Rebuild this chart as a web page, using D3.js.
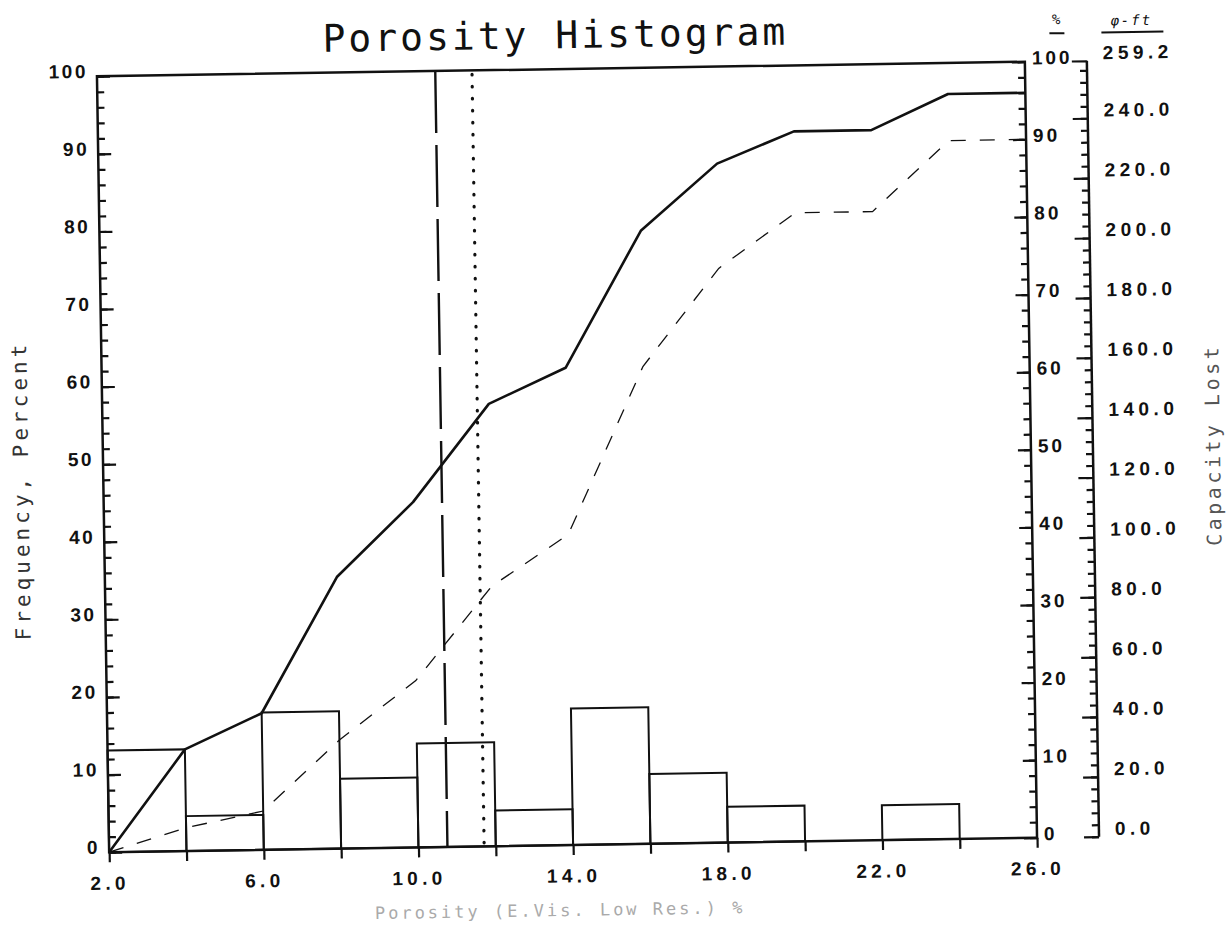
<!DOCTYPE html>
<html>
<head>
<meta charset="utf-8">
<script src="https://cdn.jsdelivr.net/npm/d3@7"></script>
<style>
html, body { margin: 0; padding: 0; background: #fff; }
svg { display: block; }
.num { font-family: "Liberation Sans", Arial, sans-serif; font-weight: bold; font-size: 19px; fill: #111; }
.mono { font-family: "DejaVu Sans Mono", monospace; }
</style>
</head>
<body>
<svg id="chart" width="1231" height="925"></svg>
<script>
/* ------------------------------------------------------------
   DATA
------------------------------------------------------------ */
const binStarts = [2, 4, 6, 8, 10, 12, 14, 16, 18, 20, 22, 24];
const binWidth = 2;
const frequency = [13.1, 4.5, 17.7, 9.0, 13.4, 4.6, 17.6, 9.0, 4.6, 0, 4.5, 0];

const cumEdges = [2, 4, 6, 8, 10, 12, 14, 16, 18, 20, 22, 24, 26];
const cumFrequency = [0, 13.1, 17.6, 35, 44.5, 57, 61.5, 79, 87.5, 91.5, 91.5, 96, 96];
const cumCapacity = [0, 3, 5, 14, 21.5, 33.5, 40, 61.5, 74, 81, 81, 90, 90];

const xLabelTicks = [2, 6, 10, 14, 18, 22, 26];
const pctTicks = [0, 10, 20, 30, 40, 50, 60, 70, 80, 90, 100];
const capTicks = [0, 20, 40, 60, 80, 100, 120, 140, 160, 180, 200, 220, 240];
const capMax = 259.2;

const cutoffDashed = 10.75;
const cutoffDotted = 11.7;

/* ------------------------------------------------------------
   LAYOUT
------------------------------------------------------------ */
const W = 928, H = 776;
const cx = 567, cy = 457;
const plotLeft = cx - W / 2, plotTop = cy - H / 2;
const ink = "#111";

const svg = d3.select("#chart");
// the scan is tilted a little, so the whole sheet is turned with it
const page = svg.append("g").attr("transform", `rotate(-0.9, ${cx}, ${cy})`);
const plot = page.append("g").attr("transform", `translate(${plotLeft},${plotTop})`);

const x = d3.scaleLinear().domain([2, 26]).range([0, W]);
const y = d3.scaleLinear().domain([0, 100]).range([H, 0]);
const yCap = d3.scaleLinear().domain([0, capMax]).range([H, 0]);

// title
page.append("text")
    .attr("class", "mono")
    .attr("x", 562).attr("y", 48)
    .attr("text-anchor", "middle")
    .attr("font-size", 38)
    .attr("letter-spacing", 3)
    .attr("fill", ink)
    .text("Porosity Histogram");

/* histogram bars */
plot.selectAll("rect.bar")
    .data(binStarts.map((b, i) => ({ b, v: frequency[i] })).filter(d => d.v > 0))
    .enter()
    .append("rect")
    .attr("class", "bar")
    .attr("x", d => x(d.b))
    .attr("y", d => y(d.v))
    .attr("width", d => x(d.b + binWidth) - x(d.b))
    .attr("height", d => y(0) - y(d.v))
    .attr("fill", "none")
    .attr("stroke", ink)
    .attr("stroke-width", 2);

/* cumulative lines */
const line = d3.line().x(d => x(d[0])).y(d => y(d[1]));

plot.append("path")
    .attr("d", line(cumEdges.map((e, i) => [e, cumCapacity[i]])))
    .attr("fill", "none")
    .attr("stroke", ink)
    .attr("stroke-width", 1.3)
    .attr("stroke-dasharray", "15,14");

plot.append("path")
    .attr("d", line(cumEdges.map((e, i) => [e, cumFrequency[i]])))
    .attr("fill", "none")
    .attr("stroke", ink)
    .attr("stroke-width", 2.6)
    .attr("stroke-linejoin", "round");

/* cutoff markers */
plot.append("line")
    .attr("x1", x(cutoffDashed)).attr("x2", x(cutoffDashed))
    .attr("y1", 0).attr("y2", H)
    .attr("stroke", ink)
    .attr("stroke-width", 2.4)
    .attr("stroke-dasharray", "62,12");

plot.append("line")
    .attr("x1", x(cutoffDotted)).attr("x2", x(cutoffDotted))
    .attr("y1", 4).attr("y2", H)
    .attr("stroke", ink)
    .attr("stroke-width", 3.2)
    .attr("stroke-linecap", "round")
    .attr("stroke-dasharray", "0.5,11.5");

/* frame */
plot.append("rect")
    .attr("width", W).attr("height", H)
    .attr("fill", "none")
    .attr("stroke", ink)
    .attr("stroke-width", 2.5);

/* ------------------------------------------------------------
   AXES
------------------------------------------------------------ */
function styleAxis(g) {
    g.select(".domain").remove();
    g.selectAll(".tick line").attr("stroke", ink).attr("stroke-width", 2.2);
    g.selectAll(".tick text").attr("class", "num").attr("font-size", null).attr("font-family", null);
}

const minorPct = d3.range(0, 101, 2);
const minorCap = d3.range(0, 257, 4);

// left axis
plot.append("g")
    .call(d3.axisLeft(y).tickValues(minorPct).tickSize(-7).tickFormat(""))
    .call(styleAxis);
plot.append("g")
    .call(d3.axisLeft(y).tickValues(pctTicks).tickSize(-13).tickPadding(9).tickFormat(d3.format("d")))
    .call(styleAxis)
    .call(g => g.selectAll(".tick text").attr("dy", "0.05em").attr("letter-spacing", 2.5));

// right % axis
const rightAxis = plot.append("g").attr("transform", `translate(${W},0)`);
rightAxis.append("g")
    .call(d3.axisRight(y).tickValues(minorPct).tickSize(-7).tickFormat(""))
    .call(styleAxis);
rightAxis.append("g")
    .call(d3.axisRight(y).tickValues(pctTicks).tickSize(-13).tickPadding(7).tickFormat(d3.format("d")))
    .call(styleAxis)
    .call(g => g.selectAll(".tick text").attr("dy", "0.12em").attr("letter-spacing", 3));

// capacity axis
const capAxis = plot.append("g").attr("transform", `translate(${W + 62},0)`);
capAxis.append("line")
    .attr("y1", 0).attr("y2", H)
    .attr("stroke", ink).attr("stroke-width", 2.5);
capAxis.append("g")
    .call(d3.axisRight(yCap).tickValues(minorCap).tickSize(-7).tickFormat(""))
    .call(styleAxis);
capAxis.append("g")
    .call(d3.axisRight(yCap).tickValues(capTicks.concat([capMax])).tickSize(-15).tickPadding(16).tickFormat(d3.format(".1f")))
    .call(styleAxis)
    .call(g => g.selectAll(".tick text").attr("dy", "-0.1em").attr("letter-spacing", 4.5));

// bottom axis
plot.append("g")
    .attr("transform", `translate(0,${H})`)
    .call(d3.axisBottom(x).tickValues(cumEdges).tickSize(10).tickPadding(14)
        .tickFormat(d => xLabelTicks.includes(d) ? d3.format(".1f")(d) : ""))
    .call(styleAxis)
    .call(g => g.selectAll(".tick text").attr("font-size", 18).attr("letter-spacing", 4.3));

/* ------------------------------------------------------------
   AXIS HEADERS AND TITLES
------------------------------------------------------------ */
page.append("text")
    .attr("class", "mono")
    .attr("x", 1063).attr("y", 32)
    .attr("text-anchor", "middle")
    .attr("font-size", 14)
    .attr("font-style", "italic")
    .attr("fill", ink)
    .text("%");
page.append("line")
    .attr("x1", 1056).attr("x2", 1071).attr("y1", 41).attr("y2", 41)
    .attr("stroke", ink).attr("stroke-width", 2);

page.append("text")
    .attr("class", "mono")
    .attr("x", 1138).attr("y", 34)
    .attr("text-anchor", "middle")
    .attr("font-size", 14)
    .attr("font-style", "italic")
    .attr("letter-spacing", 2)
    .attr("fill", ink)
    .text("φ-ft");
page.append("line")
    .attr("x1", 1108).attr("x2", 1170).attr("y1", 41).attr("y2", 41)
    .attr("stroke", ink).attr("stroke-width", 2);

page.append("text")
    .attr("class", "mono")
    .attr("transform", "translate(28,482) rotate(-90)")
    .attr("text-anchor", "middle")
    .attr("font-size", 21)
    .attr("letter-spacing", 4)
    .attr("fill", "#333")
    .text("Frequency, Percent");

page.append("text")
    .attr("class", "mono")
    .attr("transform", "translate(1220,455) rotate(-90)")
    .attr("text-anchor", "middle")
    .attr("font-size", 20)
    .attr("letter-spacing", 3.5)
    .attr("fill", "#555")
    .text("Capacity Lost");

page.append("text")
    .attr("class", "mono")
    .attr("x", 553).attr("y", 916)
    .attr("text-anchor", "middle")
    .attr("font-size", 17)
    .attr("letter-spacing", 3)
    .attr("fill", "#aaa")
    .text("Porosity (E.Vis. Low Res.) %");
</script>
</body>
</html>
